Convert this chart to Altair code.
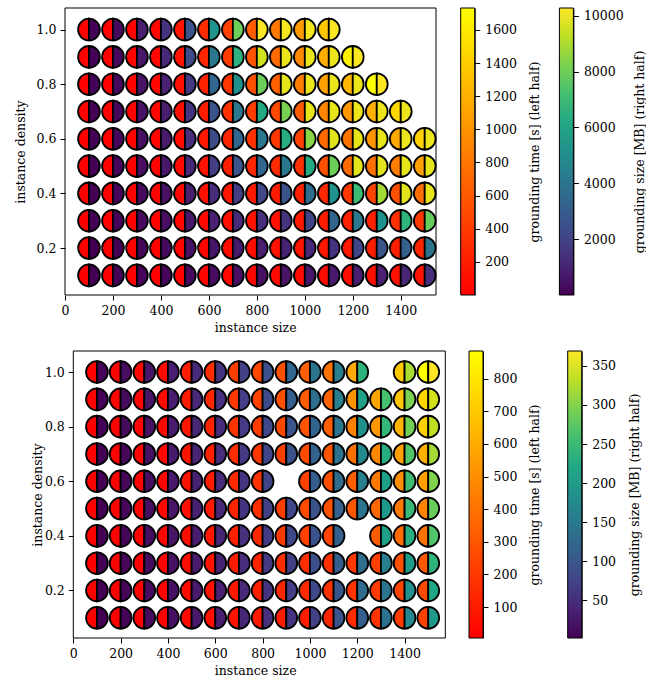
import math
import altair as alt
import pandas as pd

# ---------------- data ----------------
instance_sizes = [100, 200, 300, 400, 500, 600, 700, 800, 900, 1000, 1100, 1200, 1300, 1400, 1500]
instance_densities = [1.0, 0.9, 0.8, 0.7, 0.6, 0.5, 0.4, 0.3, 0.2, 0.1]

# top panel: grounding time [s] (left half), one list per density row
top_time = [
    [5, 10, 20, 50, 135, 300, 435, 625, 820, 1050, 1350],
    [5, 10, 20, 45, 120, 260, 400, 580, 720, 930, 1180, 1640],
    [5, 10, 15, 40, 100, 230, 360, 540, 650, 850, 1080, 1250, 1732],
    [4, 8, 15, 35, 90, 200, 320, 410, 490, 610, 920, 1030, 1195, 1470],
    [3, 7, 12, 30, 75, 170, 250, 330, 380, 440, 720, 780, 1000, 1150, 1420],
    [3, 6, 10, 25, 60, 130, 200, 260, 290, 330, 540, 720, 760, 840, 1090],
    [2, 5, 8, 20, 45, 100, 150, 170, 180, 217, 270, 380, 460, 543, 735],
    [2, 4, 7, 15, 35, 70, 100, 120, 130, 160, 200, 217, 230, 326, 380],
    [1, 3, 5, 10, 25, 45, 70, 90, 110, 130, 150, 170, 190, 210, 240],
    [1, 2, 4, 7, 15, 25, 40, 50, 60, 70, 80, 90, 100, 110, 130],
]
# top panel: grounding size [MB] (right half)
top_size = [
    [50, 250, 800, 1450, 2600, 5300, 8000, 10200, 10100, 10100, 10200],
    [40, 200, 600, 1100, 2250, 4100, 6600, 9550, 10000, 10000, 10000, 10200],
    [40, 180, 500, 900, 1700, 3400, 5100, 8000, 9900, 10000, 10000, 10000, 10275],
    [35, 150, 450, 800, 1500, 2600, 4100, 6200, 8200, 9900, 9900, 10000, 10000, 10000],
    [30, 130, 400, 700, 1300, 2300, 3400, 4100, 6400, 8500, 9800, 9900, 9900, 10000, 10000],
    [25, 110, 330, 600, 1100, 1900, 2700, 3400, 4100, 6200, 8000, 9800, 9800, 9900, 9900],
    [20, 90, 270, 450, 800, 1300, 1800, 2200, 2600, 3600, 5200, 7000, 8900, 9800, 9900],
    [15, 70, 200, 350, 600, 900, 1200, 1400, 1500, 2100, 3300, 4100, 5300, 6700, 7900],
    [10, 50, 150, 250, 400, 550, 700, 800, 900, 1100, 1500, 2100, 2600, 3100, 3900],
    [5, 30, 80, 130, 200, 280, 350, 420, 500, 600, 700, 800, 900, 1050, 1350],
]
# bottom panel (None = no run)
bottom_time = [
    [8, 15, 25, 40, 110, 160, 220, 250, 280, 340, 400, 590, None, 700, 885],
    [7, 14, 22, 35, 95, 140, 200, 230, 281, 320, 350, 515, 575, 680, 745],
    [6, 12, 20, 32, 85, 125, 180, 210, 250, 290, 330, 450, 530, 620, 720],
    [6, 11, 18, 30, 75, 115, 160, 195, 220, 265, 300, 390, 470, 555, 610],
    [5, 10, 16, 27, 65, 100, 145, 180, None, 230, 280, 330, 420, 500, 555],
    [5, 9, 15, 25, 58, 90, 130, 160, 220, 260, 280, 305, 360, 420, 460],
    [5, 9, 14, 23, 50, 80, 115, 145, 200, 225, 240, None, 320, 375, 400],
    [4, 8, 12, 20, 45, 70, 100, 130, 160, 165, 175, 195, 225, 280, 310],
    [4, 7, 11, 18, 40, 60, 90, 115, 140, 145, 170, 180, 210, 240, 265],
    [3, 6, 10, 16, 35, 55, 75, 95, 100, 105, 130, 155, 185, 210, 230],
]
bottom_size = [
    [5, 12, 22, 32, 45, 55, 72, 94, 123, 142, 157, 240, None, 322, 369],
    [4, 11, 20, 30, 42, 52, 68, 85, 112, 135, 158, 210, 262, 296, 345],
    [4, 10, 18, 28, 40, 50, 65, 80, 98, 118, 145, 185, 245, 290, 335],
    [3, 9, 17, 26, 38, 48, 62, 78, 95, 115, 140, 175, 230, 270, 320],
    [3, 8, 15, 24, 35, 45, 58, 75, None, 110, 130, 160, 210, 255, 300],
    [3, 8, 14, 22, 33, 42, 55, 70, 80, 94, 115, 145, 200, 250, 285],
    [3, 7, 13, 20, 30, 40, 52, 66, 80, 95, 112, None, 210, 230, 270],
    [3, 7, 12, 18, 28, 37, 48, 62, 70, 92, 110, 135, 158, 205, 240],
    [2, 6, 11, 17, 26, 34, 44, 57, 68, 80, 100, 130, 145, 185, 220],
    [2, 5, 10, 15, 24, 31, 40, 52, 55, 72, 95, 112, 140, 170, 200],
]

x_ticks = [0, 200, 400, 600, 800, 1000, 1200, 1400]
y_ticks = [0.2, 0.4, 0.6, 0.8, 1.0]
top_time_ticks = [200, 400, 600, 800, 1000, 1200, 1400, 1600]
top_size_ticks = [2000, 4000, 6000, 8000, 10000]
bottom_time_ticks = [100, 200, 300, 400, 500, 600, 700, 800]
bottom_size_ticks = [50, 100, 150, 200, 250, 300, 350]

# ---------------- styling / layout ----------------
FONT = "DejaVu Serif"
FS = 12.5
RADIUS = 10.9
SYM_STROKE = 1.8
PH = 287
PWV = 380.3        # panel view width (same in both rows)
SHIFT = 8.3        # bottom row is drawn this much further right
CBW = 14
CB1_W = 83.6       # view width of first colour bar
CB2_W = 22.3       # view width of second colour bar

AUTUMN = [(0.0, "#ff0000"), (1.0, "#ffff00")]
VIRIDIS = [(0.0, "#440154"), (0.1, "#482475"), (0.2, "#414487"), (0.3, "#355f8d"),
           (0.4, "#2a788e"), (0.5, "#21918c"), (0.6, "#22a884"), (0.7, "#44bf70"),
           (0.8, "#7ad151"), (0.9, "#bddf26"), (1.0, "#fde725")]


def table(time_rows, size_rows):
    rows = []
    for d, tr, sr in zip(instance_densities, time_rows, size_rows):
        for s, t, m in zip(instance_sizes, tr, sr):
            if t is None:
                continue
            rows.append({"size": s, "density": d, "time": t, "mb": m})
    return pd.DataFrame(rows)


def panel(df, xmax, frame_w, x0, ydom, tdom, sdom, ytitle_pad):
    ppu = frame_w / xmax
    xdom = [-x0 / ppu, (PWV - x0) / ppu]
    x = alt.X("size:Q", scale=alt.Scale(domain=xdom, nice=False, zero=False),
              axis=alt.Axis(values=x_ticks, format="d", title="instance size", domain=False))
    y = alt.Y("density:Q", scale=alt.Scale(domain=ydom, nice=False, zero=False),
              axis=alt.Axis(values=y_ticks, format=".1f", title="instance density",
                            titlePadding=ytitle_pad, offset=-x0, domain=False))
    frame = alt.Chart(pd.DataFrame({"f": [0]})).mark_rect(
        fill="transparent", stroke="black", strokeWidth=1).encode(
        x=alt.value(x0), x2=alt.value(x0 + frame_w), y=alt.value(0), y2=alt.value(PH))
    base = alt.Chart(df)
    # left half (clockwise from 6 o'clock to 12 o'clock): grounding time, autumn
    left = base.mark_arc(radius=RADIUS, theta=math.pi, theta2=2 * math.pi, stroke="black",
                         strokeWidth=SYM_STROKE).encode(
        x=x, y=y,
        fill=alt.Fill("time:Q", scale=alt.Scale(domain=tdom, range=["#ff0000", "#ffff00"],
                                                 interpolate="rgb"), legend=None))
    # right half (12 o'clock to 6 o'clock): grounding size, viridis
    right = base.mark_arc(radius=RADIUS, theta=0, theta2=math.pi, stroke="black",
                          strokeWidth=SYM_STROKE).encode(
        x=x, y=y,
        color=alt.Color("mb:Q", scale=alt.Scale(domain=sdom, scheme="viridis"), legend=None))
    return alt.layer(frame, left, right).properties(width=PWV, height=PH)


def colorbar(lo, hi, stops, ticks, title, view_w, x0, title_pad):
    df = pd.DataFrame({"lo": [lo], "hi": [hi]})
    grad = alt.Gradient(gradient="linear",
                        stops=[alt.GradientStop(offset=o, color=c) for o, c in stops],
                        x1=0, x2=0, y1=1, y2=0)
    return alt.Chart(df).mark_rect(fill=grad, stroke="black", strokeWidth=1).encode(
        x=alt.value(x0), x2=alt.value(x0 + CBW),
        y=alt.Y("lo:Q", scale=alt.Scale(domain=[lo, hi], nice=False, zero=False),
                axis=alt.Axis(orient="right", values=ticks, format="d", title=title,
                              titleAngle=270, titleBaseline="top",
                              offset=-(view_w - x0 - CBW),
                              labelPadding=5, titlePadding=title_pad)),
        y2="hi:Q",
    ).properties(width=view_w, height=PH)


top_df = table(top_time, top_size)
bot_df = table(bottom_time, bottom_size)

p_top = panel(top_df, 1547, 371, 0, [0.028, 1.079], [0, 1732], [0, 10275], 9)
p_bot = panel(bot_df, 1572, 372, SHIFT, [0.026, 1.077], [5, 885], [2, 369], 0)

cb_t1 = colorbar(0, 1732, AUTUMN, top_time_ticks, "grounding time [s] (left half)", CB1_W, 0, 12)
cb_t2 = colorbar(0, 10275, VIRIDIS, top_size_ticks, "grounding size [MB] (right half)", CB2_W, 0, 10)
cb_b1 = colorbar(5, 885, AUTUMN, bottom_time_ticks, "grounding time [s] (left half)", CB1_W, SHIFT, 12)
cb_b2 = colorbar(2, 369, VIRIDIS, bottom_size_ticks, "grounding size [MB] (right half)", CB2_W, SHIFT, 13)

chart = alt.concat(
    p_top, cb_t1, cb_t2,
    p_bot, cb_b1, cb_b2,
    columns=3, align="none", bounds="flush",
    spacing={"row": 56, "column": 14.7},
).resolve_scale(fill="independent", color="independent").properties(
    padding={"left": 14, "top": 7, "right": 0, "bottom": 0},
    background="white",
).configure_view(stroke=None).configure_axis(
    labelFont=FONT, titleFont=FONT, labelFontSize=FS, titleFontSize=FS,
    titleFontWeight="normal", labelColor="black", titleColor="black",
    tickColor="black", domainColor="black", tickSize=5, tickWidth=1, domainWidth=1,
    grid=False, labelFlush=False, labelPadding=4, titlePadding=5
)

chart.save("out.html", embed_options={"renderer": "svg", "actions": False})
